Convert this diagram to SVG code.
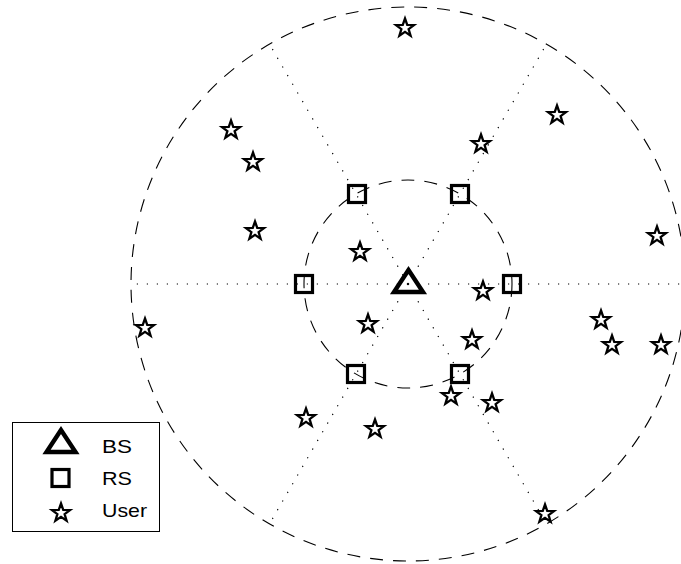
<svg xmlns="http://www.w3.org/2000/svg" width="681" height="564" viewBox="0 0 681 564">
  <style>
    .cell { fill: none; stroke: #000; stroke-width: 1.1; stroke-dasharray: 13 10; }
    .sector { fill: none; stroke: #000; stroke-width: 1.2; stroke-dasharray: 1.2 8.8; }
    .bs { fill: none; stroke: #000; stroke-width: 4.4; stroke-linejoin: miter; stroke-miterlimit: 10; }
    .rs { fill: none; stroke: #000; stroke-width: 3.2; }
    .user { fill: none; stroke: #000; stroke-width: 2.3; stroke-linejoin: miter; }
    .label { font-family: "Liberation Sans", Arial, sans-serif; font-size: 19px; fill: #000; }
  </style>
  <defs>
    <path id="star" d="M0,-9.5 L2.234,-3.074 L9.035,-2.936 L3.614,1.174 L5.584,7.686 L0,3.8 L-5.584,7.686 L-3.614,1.174 L-9.035,-2.936 L-2.234,-3.074 Z"/>
    <polygon id="tri" points="0,-14 -14.5,8 14.5,8"/>
    <rect id="sq" x="-8.5" y="-8.5" width="17" height="17"/>
  </defs>
  <rect width="681" height="564" fill="#fff"/>

  <!-- cell boundaries and sector lines -->
  <g id="connectors">
    <circle class="cell" cx="408" cy="284" r="277"/>
    <circle class="cell" cx="408" cy="284" r="104"/>
    <line class="sector" x1="408" y1="284" x2="685" y2="284"/>
    <line class="sector" x1="408" y1="284" x2="131" y2="284"/>
    <line class="sector" x1="408" y1="284" x2="546.5" y2="44.1"/>
    <line class="sector" x1="408" y1="284" x2="269.5" y2="44.1"/>
    <line class="sector" x1="408" y1="284" x2="269.5" y2="523.9"/>
    <line class="sector" x1="408" y1="284" x2="546.5" y2="523.9"/>
  </g>

  <!-- base station -->
  <g id="bs">
    <use href="#tri" class="bs" x="408.5" y="284"/>
  </g>

  <!-- relay stations -->
  <g id="rs1"><use href="#sq" class="rs" x="512" y="284"/></g>
  <g id="rs2"><use href="#sq" class="rs" x="460" y="194"/></g>
  <g id="rs3"><use href="#sq" class="rs" x="357" y="194"/></g>
  <g id="rs4"><use href="#sq" class="rs" x="304" y="284"/></g>
  <g id="rs5"><use href="#sq" class="rs" x="356" y="374"/></g>
  <g id="rs6"><use href="#sq" class="rs" x="460" y="374"/></g>

  <!-- users -->
  <g id="users">
    <g id="u1"><use href="#star" class="user" x="405" y="28"/></g>
    <g id="u2"><use href="#star" class="user" x="557" y="115"/></g>
    <g id="u3"><use href="#star" class="user" x="231" y="130"/></g>
    <g id="u4"><use href="#star" class="user" x="481" y="144"/></g>
    <g id="u5"><use href="#star" class="user" x="253" y="162"/></g>
    <g id="u6"><use href="#star" class="user" x="255" y="231"/></g>
    <g id="u7"><use href="#star" class="user" x="657" y="236"/></g>
    <g id="u8"><use href="#star" class="user" x="360" y="252"/></g>
    <g id="u9"><use href="#star" class="user" x="483" y="291"/></g>
    <g id="u10"><use href="#star" class="user" x="145" y="328"/></g>
    <g id="u11"><use href="#star" class="user" x="601" y="320"/></g>
    <g id="u12"><use href="#star" class="user" x="368" y="324"/></g>
    <g id="u13"><use href="#star" class="user" x="472" y="340"/></g>
    <g id="u14"><use href="#star" class="user" x="612" y="345"/></g>
    <g id="u15"><use href="#star" class="user" x="661" y="345"/></g>
    <g id="u16"><use href="#star" class="user" x="451" y="396"/></g>
    <g id="u17"><use href="#star" class="user" x="306" y="418"/></g>
    <g id="u18"><use href="#star" class="user" x="492" y="403"/></g>
    <g id="u19"><use href="#star" class="user" x="375" y="429"/></g>
    <g id="u20"><use href="#star" class="user" x="545" y="514"/></g>
  </g>

  <!-- legend -->
  <g id="legend">
    <rect x="12.5" y="422.5" width="147" height="109" fill="#fff" stroke="#000" stroke-width="1"/>
    <use href="#tri" class="bs" x="61" y="444"/>
    <text class="label" x="102" y="453" textLength="30" lengthAdjust="spacingAndGlyphs">BS</text>
    <use href="#sq" class="rs" x="60.5" y="478"/>
    <text class="label" x="102" y="485" textLength="30" lengthAdjust="spacingAndGlyphs">RS</text>
    <use href="#star" class="user" x="61" y="513"/>
    <text class="label" x="102" y="517" textLength="45" lengthAdjust="spacingAndGlyphs">User</text>
  </g>
</svg>
